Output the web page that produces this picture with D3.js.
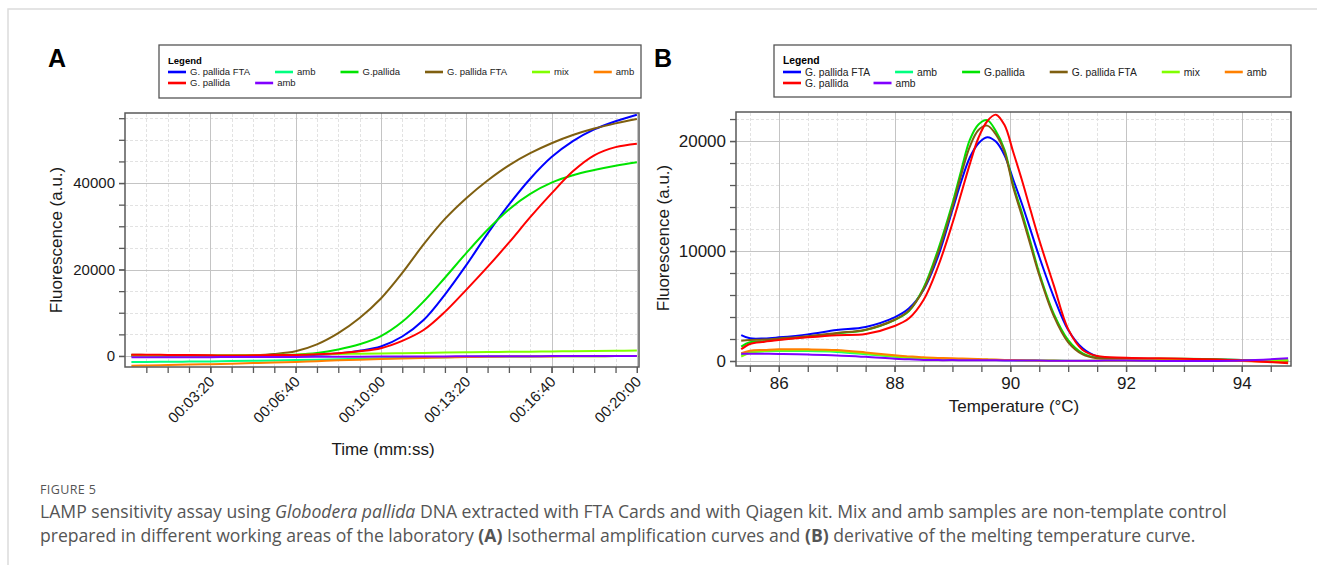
<!DOCTYPE html>
<html>
<head>
<meta charset="utf-8">
<script src="https://cdn.jsdelivr.net/npm/d3@7"></script>
<style>
  body { margin: 0; background: #fff; }
  svg { font-family: "Liberation Sans", Arial, sans-serif; }
  .grid line { shape-rendering: crispEdges; }
  .caption { font-family: "Open Sans", "Noto Sans", sans-serif; fill: #555; }
</style>
</head>
<body>
<svg width="1317" height="565"></svg>
<script>
// legend / series order as shown in both legends
var seriesNames = ["G. pallida FTA", "amb", "G.pallida", "G. pallida FTA", "mix", "amb", "G. pallida", "amb"];
var seriesColors = ["#0000ff", "#00ff80", "#00e400", "#7f5f10", "#80ff00", "#ff8000", "#ff0000", "#8000ff"];

// A: isothermal amplification, time in seconds
var ampTime = [15, 50, 100, 150, 200, 250, 300, 350, 400, 450, 500, 550, 600, 650, 700, 750, 800, 850, 900, 950, 1000, 1050, 1100, 1150, 1200];
var ampBlue   = [0, 0, 0, 0, 0, 0, 20, 60, 150, 300, 600, 1200, 2200, 4500, 8300, 14200, 21000, 28300, 35000, 41000, 46000, 49700, 52400, 54300, 55800];
var ampCyan   = [-1400, -1380, -1350, -1300, -1250, -1180, -1100, -1030, -950, -850, -750, -650, -550, -450, -350, -270, -200, -150, -120, -100, -80, -60, -50, -30, -20];
var ampGreen  = [200, 150, 100, 50, 0, 0, 20, 100, 300, 700, 1500, 2700, 4600, 7900, 12600, 18100, 23800, 29200, 33900, 37500, 40100, 41800, 43000, 44000, 44800];
var ampBrown  = [300, 250, 200, 150, 120, 120, 200, 480, 1100, 2700, 5300, 8800, 13300, 19200, 25800, 31700, 36500, 40600, 44100, 46900, 49200, 51100, 52600, 53800, 54800];
var ampMix    = [0, 20, 50, 80, 100, 150, 200, 250, 300, 380, 450, 520, 600, 650, 700, 780, 850, 900, 950, 1000, 1050, 1100, 1150, 1200, 1250];
var ampOrange = [-2250, -2200, -2100, -2000, -1900, -1780, -1650, -1530, -1400, -1200, -1000, -850, -700, -570, -450, -350, -250, -200, -150, -120, -100, -70, -50, -20, 0];
var ampRed    = [300, 300, 250, 200, 150, 100, 150, 200, 250, 400, 650, 1100, 1800, 3500, 6000, 10200, 15300, 20600, 26200, 32100, 37600, 42700, 46400, 48300, 49100];
var ampPurple = [-300, -300, -290, -280, -270, -260, -250, -230, -210, -200, -180, -160, -150, -130, -110, -100, -80, -60, -50, -40, -30, -20, -10, 0, 0];

var ampTicks = [200, 400, 600, 800, 1000, 1200];
var ampTickLabels = ["00:03:20", "00:06:40", "00:10:00", "00:13:20", "00:16:40", "00:20:00"];
var ampYTicks = [0, 20000, 40000];

// B: derivative of melting curve, temperature in °C
var meltTemp = [85.35, 85.5, 85.75, 86, 86.5, 87, 87.5, 88, 88.25, 88.5, 88.75, 89, 89.15, 89.3, 89.45, 89.6, 89.75, 89.9, 90.05, 90.2, 90.35, 90.5, 90.75, 91, 91.25, 91.5, 92, 93, 94, 94.8];
var meltBlue   = [2350, 2060, 2050, 2150, 2420, 2820, 3100, 3970, 4790, 6450, 9480, 13730, 16300, 18500, 19800, 20350, 19950, 18700, 16500, 14300, 11900, 9480, 5840, 2820, 1150, 420, 250, 150, 100, 0];
var meltCyan   = [550, 800, 880, 900, 900, 820, 620, 380, 280, 200, 160, 130, 120, 110, 100, 90, 80, 70, 60, 50, 40, 30, 20, 10, 0, 0, 30, 50, 50, 80];
var meltGreen  = [1300, 1700, 1800, 1950, 2200, 2500, 2820, 3730, 4550, 6640, 10090, 14330, 17300, 20100, 21500, 21900, 20900, 19200, 16000, 13500, 10800, 8000, 4300, 1900, 700, 300, 200, 200, 100, 50];
var meltBrown  = [1850, 1900, 1950, 2050, 2250, 2550, 2850, 3750, 4600, 6500, 9800, 14000, 16900, 19500, 21000, 21400, 20600, 19000, 15800, 13200, 10500, 7800, 4100, 1700, 600, 250, 200, 150, 100, 0];
var meltMix    = [400, 750, 900, 950, 980, 900, 680, 420, 300, 230, 180, 150, 140, 130, 120, 110, 100, 90, 80, 70, 60, 50, 40, 30, 30, 40, 50, 100, 50, 100];
var meltOrange = [700, 940, 1000, 1060, 1060, 1000, 780, 520, 420, 330, 280, 250, 220, 200, 180, 150, 130, 100, 80, 60, 50, 30, 20, 0, 0, 20, 50, 50, 0, -150];
var meltRed    = [1060, 1550, 1750, 1900, 2150, 2350, 2450, 3180, 3880, 5540, 8570, 12520, 15200, 17900, 20300, 21800, 22400, 21450, 19000, 16450, 13700, 11000, 6900, 2900, 1000, 450, 300, 200, 50, -200];
var meltPurple = [660, 650, 650, 640, 600, 500, 380, 200, 150, 100, 80, 80, 75, 70, 70, 65, 60, 55, 50, 45, 40, 35, 30, 20, 20, 30, 50, 0, 50, 250];

var meltTicks = [86, 88, 90, 92, 94];
var meltYTicks = [0, 10000, 20000];

var svg = d3.select("svg");

// thin frame round the figure
svg.append("path")
    .attr("d", "M8,565V9H1317")
    .attr("fill", "none")
    .attr("stroke", "#dcdcdc")
    .attr("stroke-width", 1.5);

function zipSeries(xs, cols) {
  return cols.map(function(col, i) {
    return { name: seriesNames[i], color: seriesColors[i], values: xs.map(function(x, j) { return [x, col[j]]; }) };
  });
}

function panel(p) {
  var x0 = p.x.range()[0], x1 = p.x.range()[1],
      yTop = p.y.range()[1], yBot = p.y.range()[0];
  var g = svg.append("g");

  // grid: minor dashed, major solid
  g.append("g").attr("class", "grid minor")
      .attr("transform", "translate(0," + yBot + ")")
      .call(d3.axisBottom(p.x).tickValues(p.xMinor).tickSize(-(yBot - yTop)).tickFormat(""));
  g.append("g").attr("class", "grid minor")
      .attr("transform", "translate(" + x0 + ",0)")
      .call(d3.axisLeft(p.y).tickValues(p.yMinor).tickSize(-(x1 - x0)).tickFormat(""));
  g.selectAll(".grid.minor line").attr("stroke", "#e2e2e2").attr("stroke-dasharray", "3,2");
  g.append("g").attr("class", "grid major")
      .attr("transform", "translate(0," + yBot + ")")
      .call(d3.axisBottom(p.x).tickValues(p.xMajor).tickSize(-(yBot - yTop)).tickFormat(""));
  g.append("g").attr("class", "grid major")
      .attr("transform", "translate(" + x0 + ",0)")
      .call(d3.axisLeft(p.y).tickValues(p.yMajor).tickSize(-(x1 - x0)).tickFormat(""));
  g.selectAll(".grid.major line").attr("stroke", "#c4c4c4");
  g.selectAll(".grid .domain").remove();

  svg.append("defs").append("clipPath").attr("id", p.id)
    .append("rect")
      .attr("x", x0).attr("y", yTop)
      .attr("width", x1 - x0).attr("height", yBot - yTop);

  var line = d3.line()
      .curve(p.curve)
      .x(function(d) { return p.x(d[0]); })
      .y(function(d) { return p.y(d[1]); });

  g.append("g").attr("clip-path", "url(#" + p.id + ")")
    .selectAll("path")
    .data(p.series)
    .enter().append("path")
      .attr("fill", "none")
      .attr("stroke", function(d) { return d.color; })
      .attr("stroke-width", 2)
      .attr("stroke-linejoin", "round")
      .attr("d", function(d) { return line(d.values); });

  g.append("rect")
      .attr("x", x0).attr("y", yTop)
      .attr("width", x1 - x0).attr("height", yBot - yTop)
      .attr("fill", "none")
      .attr("stroke", "#5a5a5a")
      .attr("stroke-width", 1.5);

  // ticks
  var xMinorAxis = g.append("g").attr("transform", "translate(0," + yBot + ")")
      .call(d3.axisBottom(p.x).tickValues(p.xMinor).tickSize(6).tickFormat(""));
  var yMinorAxis = g.append("g").attr("transform", "translate(" + x0 + ",0)")
      .call(d3.axisLeft(p.y).tickValues(p.yMinor).tickSize(6).tickFormat(""));
  var xAxis = g.append("g").attr("transform", "translate(0," + yBot + ")")
      .call(d3.axisBottom(p.x).tickValues(p.xMajor).tickSize(6).tickPadding(5).tickFormat(p.xFormat));
  var yAxis = g.append("g").attr("transform", "translate(" + x0 + ",0)")
      .call(d3.axisLeft(p.y).tickValues(p.yMajor).tickSize(6).tickPadding(4).tickFormat(d3.format("d")));
  [xMinorAxis, yMinorAxis, xAxis, yAxis].forEach(function(a) {
    a.select(".domain").remove();
    a.selectAll(".tick line").attr("stroke", "#5a5a5a").attr("stroke-width", 1.3);
    a.selectAll("text").attr("fill", "#1a1a1a").attr("font-size", p.tickFont);
  });
  if (p.rotate) {
    xAxis.selectAll("text")
        .attr("x", 0).attr("y", 0).attr("dy", "0.35em")
        .attr("text-anchor", "end")
        .attr("transform", "translate(1,12) rotate(-45)");
  }

  // axis titles
  g.append("text")
      .attr("x", p.xTitlePos[0]).attr("y", p.xTitlePos[1])
      .attr("text-anchor", "middle")
      .attr("font-size", 17).attr("fill", "#1a1a1a")
      .text(p.xTitle);
  g.append("text")
      .attr("transform", "translate(" + p.yTitlePos[0] + "," + p.yTitlePos[1] + ") rotate(-90)")
      .attr("text-anchor", "middle")
      .attr("font-size", 17).attr("fill", "#1a1a1a")
      .text("Fluorescence (a.u.)");

  // panel letter
  g.append("text")
      .attr("x", p.letterPos[0]).attr("y", p.letterPos[1])
      .attr("font-size", 25).attr("font-weight", "bold")
      .text(p.letter);

  legend(p.legendBox, p.legendFont);
}

function legend(box, fs) {
  var g = svg.append("g");
  g.append("rect")
      .attr("x", box[0]).attr("y", box[1])
      .attr("width", box[2]).attr("height", box[3])
      .attr("fill", "#fff")
      .attr("stroke", "#555")
      .attr("stroke-width", 1.3);
  g.append("text")
      .attr("x", box[0] + 9).attr("y", box[1] + 19)
      .attr("font-size", fs).attr("font-weight", "bold")
      .text("Legend");
  var cx = box[0] + 9, row = 0;
  seriesNames.forEach(function(name, i) {
    var item = g.append("g");
    item.append("line")
        .attr("x1", 0).attr("x2", 18)
        .attr("stroke", seriesColors[i])
        .attr("stroke-width", 2.6);
    var t = item.append("text")
        .attr("x", 22).attr("dy", "0.35em")
        .attr("font-size", fs).attr("fill", "#222")
        .text(name);
    var w = 22 + t.node().getComputedTextLength();
    if (cx + w > box[0] + box[2] - 6) { row++; cx = box[0] + 9; }
    item.attr("transform", "translate(" + cx + "," + (box[1] + 27 + row * 11) + ")");
    cx += w + 25;
  });
}

panel({
  id: "clipA",
  letter: "A", letterPos: [48, 67],
  x: d3.scaleLinear().domain([0, 1205]).range([125, 639]),
  y: d3.scaleLinear().domain([-2550, 56200]).range([367, 113]),
  xMajor: ampTicks, xMinor: d3.range(50, 1201, 50),
  yMajor: ampYTicks, yMinor: d3.range(0, 56000, 5000),
  xFormat: function(d) { return ampTickLabels[ampTicks.indexOf(d)]; },
  rotate: true, tickFont: 15,
  curve: d3.curveCatmullRom.alpha(0.5),
  series: zipSeries(ampTime, [ampBlue, ampCyan, ampGreen, ampBrown, ampMix, ampOrange, ampRed, ampPurple]),
  xTitle: "Time (mm:ss)", xTitlePos: [383, 455],
  yTitlePos: [62, 240],
  legendBox: [159, 45, 482, 53], legendFont: 9.5
});

panel({
  id: "clipB",
  letter: "B", letterPos: [654, 67],
  x: d3.scaleLinear().domain([85.26, 94.85]).range([736, 1291]),
  y: d3.scaleLinear().domain([-455, 22640]).range([366, 112]),
  xMajor: meltTicks, xMinor: d3.range(85.5, 94.6, 0.5),
  yMajor: meltYTicks, yMinor: d3.range(0, 22100, 2000),
  xFormat: d3.format("d"),
  rotate: false, tickFont: 17,
  curve: d3.curveCatmullRom.alpha(0.5),
  series: zipSeries(meltTemp, [meltBlue, meltCyan, meltGreen, meltBrown, meltMix, meltOrange, meltRed, meltPurple]),
  xTitle: "Temperature (\u00b0C)", xTitlePos: [1014, 412],
  yTitlePos: [669, 238],
  legendBox: [774, 45, 517, 52], legendFont: 10.3
});

// caption
var cap = svg.append("g").attr("class", "caption");
cap.append("text")
    .attr("x", 40).attr("y", 494)
    .attr("font-size", 12.5).attr("letter-spacing", 0.4)
    .text("FIGURE 5");
var l1 = cap.append("text").attr("x", 40).attr("y", 518).attr("font-size", 17.6);
l1.append("tspan").text("LAMP sensitivity assay using ");
l1.append("tspan").attr("font-style", "italic").text("Globodera pallida");
l1.append("tspan").text(" DNA extracted with FTA Cards and with Qiagen kit. Mix and amb samples are non-template control");
var l2 = cap.append("text").attr("x", 40).attr("y", 542).attr("font-size", 17.6);
l2.append("tspan").text("prepared in different working areas of the laboratory ");
l2.append("tspan").attr("font-weight", "bold").text("(A)");
l2.append("tspan").text(" Isothermal amplification curves and ");
l2.append("tspan").attr("font-weight", "bold").text("(B)");
l2.append("tspan").text(" derivative of the melting temperature curve.");
</script>
</body>
</html>
